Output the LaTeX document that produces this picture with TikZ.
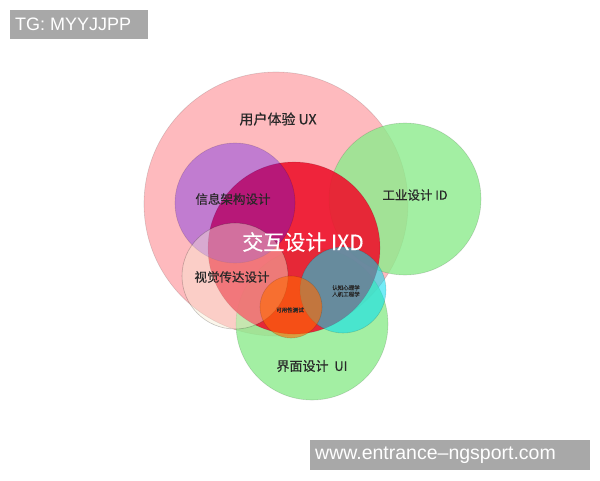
\documentclass[tikz,border=0pt]{standalone}
\usepackage{fontspec}
\setmainfont{Liberation Sans}
\newfontfamily\cjk[FakeBold=0.5]{Noto Sans CJK SC}
\definecolor{uxpink}{RGB}{254,186,190}
\definecolor{idgreen}{RGB}{140,236,140}
\definecolor{ixdred}{RGB}{238,20,45}
\definecolor{iapurple}{RGB}{70,0,245}
\definecolor{vispeach}{RGB}{248,236,212}
\definecolor{cogcyan}{RGB}{0,222,242}
\definecolor{usorange}{RGB}{255,105,0}
\definecolor{wmgray}{RGB}{168,168,168}
\definecolor{txt}{RGB}{40,40,40}
\begin{document}
\begin{tikzpicture}[x=1pt,y=-1pt,
  blob/.style={circle,inner sep=0pt,draw=black,draw opacity=0.14,line width=0.6pt},
  lab/.style={font=\cjk\fontsize{#1}{#1}\selectfont,text=txt,inner sep=0pt},
  wm/.style={text=white,inner sep=0pt,anchor=west,font=\fontsize{#1}{#1}\selectfont}]
\useasboundingbox (0,0) rectangle (600,480);
\fill[white] (0,0) rectangle (600,480);
% circles
\node[blob,minimum size=264pt,fill=uxpink] (ux) at (276,204) {};
\node[blob,minimum size=152pt,fill=idgreen,fill opacity=0.8] (id) at (405,199) {};
\node[blob,minimum size=152pt,fill=idgreen,fill opacity=0.8] (ui) at (312,324) {};
\node[blob,minimum size=172pt,fill=ixdred,fill opacity=0.9] (ixd) at (294,248) {};
\node[blob,minimum size=120pt,fill=iapurple,fill opacity=0.33] (ia) at (235,203) {};
\node[blob,minimum size=106pt,fill=vispeach,fill opacity=0.42,draw opacity=0.22] (vis) at (235,276) {};
\node[blob,minimum size=86pt,fill=cogcyan,fill opacity=0.55] (cog) at (343,290) {};
\node[blob,minimum size=62pt,fill=usorange,fill opacity=0.6] (us) at (291,307) {};
% labels
\node[lab=14] (uxl) at (278,119) {用户体验 UX};
\node[lab=12.5] (idl) at (415,195) {工业设计 ID};
\node[lab=12.5] (ial) at (233,199) {信息架构设计};
\node[lab=21,text=white] (ixdl) at (303,242) {交互设计 IXD};
\node[lab=12.5] (visl) at (232,277) {视觉传达设计};
\node[lab=5.5,align=center] (cogl) at (346,291) {认知心理学\\[1pt]人机工程学};
\node[lab=5.5] (usl) at (290,310) {可用性测试};
\node[lab=13] (uil) at (312,366) {界面设计\ \ UI};
% watermarks
\fill[wmgray] (10,10) rectangle (148,39);
\node[wm=18] (tg) at (15,24.5) {TG: MYYJJPP};
\fill[wmgray] (310,440) rectangle (590,470);
\node[wm=19.5] (web) at (315,455) {www.entrance–ngsport.com};
\end{tikzpicture}
\end{document}
